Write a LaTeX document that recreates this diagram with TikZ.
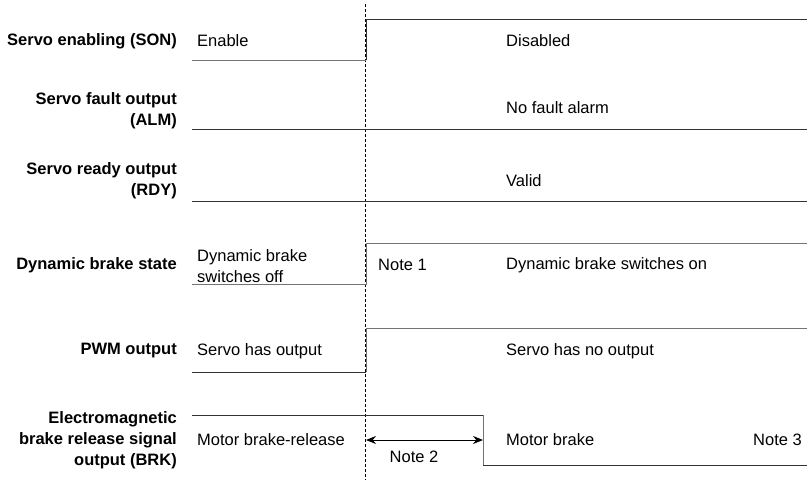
\documentclass[tikz,border=0pt]{standalone}
\usepackage{fontspec}
\setmainfont{Liberation Sans}
\usetikzlibrary{arrows.meta}
\begin{document}
\begin{tikzpicture}[x=1pt,y=-1pt,
  lbl/.style={font=\fontsize{16.5}{21}\selectfont\bfseries, align=right, anchor=east, inner sep=0pt},
  txt/.style={font=\fontsize{16.5}{21}\selectfont, anchor=west, align=left, inner sep=0pt},
  sig/.style={draw=black!80, line width=1pt},
  sigg/.style={draw=black!55, line width=1pt},
  guide/.style={draw=black, dash pattern=on 3pt off 2pt, line width=0.6pt}]
\useasboundingbox (0,0) rectangle (807,480);
% guide
\coordinate (gt) at (365.5,4);
\coordinate (gb) at (365.5,480);
\draw[guide] (gt) -- (gb);
% row labels
\node[lbl] (l1) at (177,41) {Servo enabling (SON)};
\node[lbl] (l2) at (177,111) {Servo fault output\\(ALM)};
\node[lbl] (l3) at (177,181) {Servo ready output\\(RDY)};
\node[lbl] (l4) at (177,265) {Dynamic brake state};
\node[lbl] (l5) at (177,351) {PWM output};
\node[lbl] (l6) at (177,440) {Electromagnetic\\brake release signal\\output (BRK)};
% signals
\draw[sigg] (192,60) -- (366,60);
\draw[sig] (366,60) -- (366,19) -- (807,19);
\draw[sig] (192,129) -- (807,129);
\draw[sig] (192,201) -- (807,201);
\draw[sigg] (192,284) -- (366,284) -- (366,243) -- (807,243);
\draw[sig] (192,372) -- (366,372);
\draw[sigg] (366,372) -- (366,328) -- (807,328);
\draw[sig] (192,415) -- (483,415);
\draw[sigg] (483,415) -- (483,465);
\draw[sig] (483,465) -- (807,465);
% texts
\node[txt] (t1a) at (197,41) {Enable};
\node[txt] (t1b) at (506,41) {Disabled};
\node[txt] (t2) at (506,108) {No fault alarm};
\node[txt] (t3) at (506,181) {Valid};
\node[txt] (t4a) at (197,266) {Dynamic brake\\switches off};
\node[txt] (t4n) at (378,265) {Note 1};
\node[txt] (t4b) at (506,265) {Dynamic brake switches on};
\node[txt] (t5a) at (197,351) {Servo has output};
\node[txt] (t5b) at (506,351) {Servo has no output};
\node[txt] (t6a) at (197,440) {Motor brake-release};
\node[txt] (t6b) at (506,440) {Motor brake};
\node[txt, anchor=east] (t6n) at (802,440) {Note 3};
% note 2 arrow
\coordinate (a1) at (366,440);
\coordinate (a2) at (483,440);
\draw[line width=1pt, {Stealth[length=10pt,width=8pt]}-{Stealth[length=10pt,width=8pt]}] (a1) -- (a2);
\node[txt, anchor=center] (t6c) at (414,457) {Note 2};
\end{tikzpicture}
\end{document}
